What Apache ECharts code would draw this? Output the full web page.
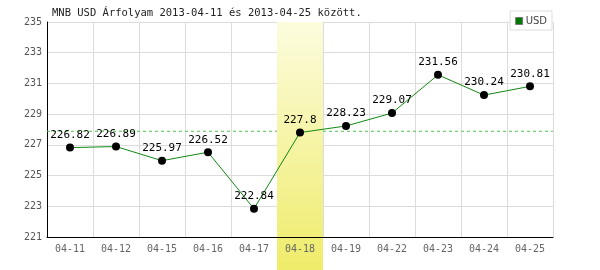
<!DOCTYPE html>
<html>
<head>
<meta charset="utf-8">
<script src="https://cdn.jsdelivr.net/npm/echarts@6/dist/echarts.min.js"></script>
<style>html,body{margin:0;padding:0;background:#fff}#c{width:600px;height:270px}</style>
</head>
<body>
<div id="c"></div>
<script>
const categories = ['04-11','04-12','04-15','04-16','04-17','04-18','04-19','04-22','04-23','04-24','04-25'];
const usdValues = [226.82, 226.89, 225.97, 226.52, 222.84, 227.8, 228.23, 229.07, 231.56, 230.24, 230.81];
const highlightDate = '04-18';
const yTicks = [221, 223, 225, 227, 229, 231, 233, 235];
const titleText = 'MNB USD Árfolyam 2013-04-11 és 2013-04-25 között.';
const seriesName = 'USD';

const mono = 'DejaVu Sans Mono';
const chart = echarts.init(document.getElementById('c'), null, {renderer: 'canvas'});
const bandData = categories.map(c => c === highlightDate ? 1 : '-');
const avgValue = usdValues.reduce((a, b) => a + b, 0) / usdValues.length;

chart.setOption({
  animation: false,
  backgroundColor: '#fff',
  title: {text: titleText, left: 52, top: 8, padding: 0,
    textStyle: {fontFamily: mono, fontSize: 10.5, fontWeight: 'normal', color: '#222'}},
  legend: {data: [{name: seriesName, itemStyle: {color: '#007700', borderColor: '#777', borderWidth: 1}}],
    right: 48, top: 11, orient: 'vertical',
    backgroundColor: '#fff', borderColor: '#ddd', borderWidth: 1, padding: [5, 5, 4, 5],
    icon: 'rect', itemWidth: 7, itemHeight: 7, itemGap: 3,
    textStyle: {fontFamily: 'DejaVu Sans', fontSize: 10, color: '#444', padding: [0, 0, 0, -2]}},
  grid: [
    {left: 47, right: 47, top: 22, bottom: 33},
    {left: 47, right: 47, top: 22, bottom: 0}
  ],
  xAxis: [
    {type: 'category', gridIndex: 0, data: categories, boundaryGap: true, z: 0,
      axisLine: {show: false}, axisTick: {show: false}, axisLabel: {show: false},
      splitLine: {show: true, lineStyle: {color: '#dcdcdc', width: 1}}},
    {type: 'category', gridIndex: 1, data: categories, show: false, boundaryGap: true},
    {type: 'category', gridIndex: 0, data: categories, boundaryGap: true, z: 3, position: 'bottom',
      axisLine: {show: true, lineStyle: {color: '#000', width: 1}}, axisTick: {show: false},
      splitLine: {show: false},
      axisLabel: {color: '#666', fontFamily: mono, fontSize: 10, margin: 7}},
    {type: 'value', gridIndex: 0, min: 0, max: 1, show: false}
  ],
  yAxis: [
    {type: 'value', gridIndex: 0, min: yTicks[0], max: yTicks[yTicks.length - 1], interval: 2, z: 0,
      axisLine: {show: true, lineStyle: {color: '#000', width: 1}}, axisTick: {show: false},
      axisLabel: {color: '#555', fontFamily: mono, fontSize: 10, margin: 5},
      splitLine: {show: true, lineStyle: {color: '#dcdcdc', width: 1}}},
    {type: 'value', gridIndex: 1, min: 0, max: 1, show: false}
  ],
  series: [
    {type: 'line', name: 'avg', xAxisIndex: 3, yAxisIndex: 0, data: [[0, avgValue], [1, avgValue]], z: 1,
      symbol: 'none', silent: true,
      lineStyle: {color: '#4fc24f', width: 1, type: [3, 3]}},
    {type: 'bar', name: 'band', xAxisIndex: 1, yAxisIndex: 1, data: bandData, z: 2,
      barWidth: '100%', silent: true,
      itemStyle: {color: new echarts.graphic.LinearGradient(0, 0, 0, 1, [
        {offset: 0, color: '#fcfcde'}, {offset: 1, color: '#efec6a'}])}},
    {type: 'line', name: seriesName, xAxisIndex: 0, yAxisIndex: 0, data: usdValues, z: 4,
      lineStyle: {color: '#118811', width: 1},
      symbol: 'circle', symbolSize: 8, itemStyle: {color: '#000', borderWidth: 0},
      label: {show: true, position: 'top', distance: 3, color: '#000', fontFamily: mono, fontSize: 11}}
  ]
});
</script>
</body>
</html>
